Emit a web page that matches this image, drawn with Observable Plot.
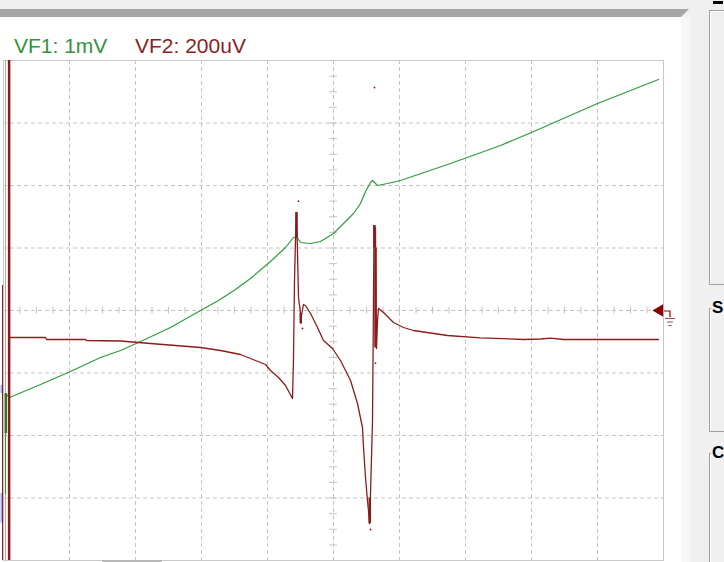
<!DOCTYPE html>
<html><head><meta charset="utf-8">
<script src="https://cdn.jsdelivr.net/npm/d3@7"></script>
<script src="https://cdn.jsdelivr.net/npm/@observablehq/plot@0.6"></script>
<style>
html,body{margin:0;padding:0;width:724px;height:562px;overflow:hidden;background:#f0f0f0;font-family:"Liberation Sans",Arial,sans-serif;}
#bar{position:absolute;left:0;top:9px;width:689px;height:8px;background:#a6a6a6;clip-path:polygon(0 0,100% 0,calc(100% - 8px) 100%,0 100%);}
#panel{position:absolute;left:0;top:17px;width:681px;height:545px;background:#fff;}
#edge{position:absolute;left:681px;top:17px;width:9px;height:545px;background:#f7f7f7;}
.hdr{position:absolute;top:34px;font-size:21px;line-height:24px;white-space:nowrap;z-index:3;}
.box{position:absolute;left:709px;width:40px;border:1px solid #a0a0a0;box-shadow:inset 1px 1px 0 #fff;}
.gt{position:absolute;font-weight:bold;font-size:17px;line-height:20px;color:#000;background:#f0f0f0;padding:0 1px;}
#scroll{position:absolute;left:102px;top:560px;width:60px;height:2px;background:#b8b8b8;z-index:3;}
#gnd{position:absolute;left:660px;top:305px;z-index:4;}
#chart svg{position:absolute;left:0;top:0;z-index:2;}
</style></head>
<body>
<div id="bar"></div>
<div id="panel"></div>
<div id="edge"></div>
<div class="box" style="top:10px;height:273px;"></div>
<div style="position:absolute;left:713px;top:1px;width:10px;height:3px;background:#000;"></div>
<div class="box" style="top:308px;height:122px;"></div>
<div class="gt" style="left:711px;top:298px;">S</div>
<div class="box" style="top:453px;height:130px;"></div>
<div class="gt" style="left:711px;top:443px;">C</div>
<div class="hdr" style="left:14px;color:#34913c;">VF1: 1mV</div>
<div class="hdr" style="left:135px;color:#8b1f1f;">VF2: 200uV</div>
<div id="chart"></div>
<div id="scroll"></div>
<svg id="gnd" width="20" height="26" viewBox="0 0 20 26">
  <path d="M4 6 H10 V12" fill="none" stroke="#8b0000" stroke-width="1.2"/>
  <path d="M5 13.5 H15 M7 17 H13 M8.5 20.5 H11.5" fill="none" stroke="#9a5050" stroke-width="1"/>
</svg>
<script>
// time in screen divisions (10 div full width), amplitude in screen divisions (VF1 1mV/div, VF2 200uV/div)
const vf1T = [0.03,0.03,0.091,0.561,1.015,1.470,1.773,2.045,2.530,2.985,3.258,3.515,3.742,4.045,4.273,4.394,4.439,4.500,4.652,4.803,5.000,5.152,5.303,5.409,5.485,5.561,5.591,5.667,5.818,6.015,6.773,7.530,8.000,9.000,9.924];
const vf1V = [-2.93,-1.33,-1.392,-1.184,-0.976,-0.752,-0.640,-0.512,-0.272,0,0.160,0.336,0.512,0.784,1.008,1.168,1.184,1.088,1.072,1.104,1.232,1.392,1.552,1.712,1.904,2.048,2.080,2.000,2.032,2.080,2.352,2.640,2.848,3.312,3.696];

const vf2T = [0.091,0.636,0.652,1.242,1.258,1.773,2.045,2.227,2.606,2.985,3.288,3.591,3.818,3.970,4.045,4.167,4.273,4.379,4.394,4.409,4.424,4.439,4.447,4.470,4.500,4.508,4.515,4.545,4.576,4.652,4.758,4.848,4.985,5.106,5.258,5.364,5.439,5.455,5.485,5.515,5.530,5.545,5.561,5.591,5.606,5.614,5.636,5.644,5.652,5.667,5.682,5.758,5.909,6.061,6.212,6.727,7.227,7.879,8.136,8.288,8.485,9.045,9.924];
const vf2V = [-0.432,-0.432,-0.464,-0.464,-0.480,-0.488,-0.512,-0.528,-0.560,-0.592,-0.640,-0.704,-0.800,-0.864,-0.960,-1.072,-1.200,-1.408,-0.768,0.480,1.120,1.568,1.280,0.208,-0.048,-0.208,-0.080,0.096,0.080,-0.048,-0.272,-0.480,-0.608,-0.800,-1.120,-1.488,-1.872,-2.192,-2.672,-3.040,-3.200,-3.408,-2.928,-1.760,0.160,1.360,1.312,0.160,-0.608,-0.160,0.032,-0.032,-0.192,-0.272,-0.320,-0.400,-0.437,-0.464,-0.456,-0.443,-0.464,-0.464,-0.464];

// dense (overdrawn) vertical portions of VF2
const vf2DenseT  = [0.085,4.439,4.504,5.620,5.636,5.550];
const vf2DenseV1 = [-4,1.15,-0.208,1.0,-0.6,-3.0];
const vf2DenseV2 = [4,1.568,-0.05,1.36,1.0,-3.41];
// dense portion of VF1 at start
const vf1DenseT = [0.035];
const vf1DenseV1 = [-1.97];
const vf1DenseV2 = [-1.33];

// isolated min/max sample pixels of VF2
const glitchT = [5.621,4.470,4.530,5.636,5.561];
const glitchV = [3.568,1.749,-0.288,-0.843,-3.504];

// other edge markers at the left side
const edgeT  = [0.030,-0.015];
const edgeV1 = [-4,-4];
const edgeV2 = [4,0.4];
const edgeColor = ["#cfa0a0","#9b1c1c"];
const chanMarkT = [-0.023,-0.023];
const chanMarkV1 = [-1.33,-2.93];
const chanMarkV2 = [-1.2,-3.4];

const triggerLevel = [0];

const gridX = [1,2,3,4,5,6,7,8,9];
const gridY = [-3,-2,-1,0,1,2,3];
const minorX = d3.range(0.25, 10, 0.25);
const minorY = d3.range(-3.75, 4, 0.25);

const green = "#2f9a3f", red = "#8b1c1c";
const vf1 = vf1T.map((t,i)=>({t, v:vf1V[i]}));
const vf2 = vf2T.map((t,i)=>({t, v:vf2V[i]}));
const vf2Dense = vf2DenseT.map((t,i)=>({t, a:vf2DenseV1[i], b:vf2DenseV2[i]}));
const vf1Dense = vf1DenseT.map((t,i)=>({t, a:vf1DenseV1[i], b:vf1DenseV2[i]}));
const glitches = glitchT.map((t,i)=>({t, v:glitchV[i]}));
const edges = edgeT.map((t,i)=>({t, a:edgeV1[i], b:edgeV2[i], c:edgeColor[i]}));
const chanMarks = chanMarkT.map((t,i)=>({t, a:chanMarkV1[i], b:chanMarkV2[i]}));

const grid = {stroke:"#c4c4c4", strokeOpacity:1, strokeDasharray:"4,3", strokeWidth:1};
const svg = Plot.plot({
  width:724, height:562,
  marginLeft:3, marginRight:61, marginTop:60, marginBottom:2,
  x:{domain:[0,10], axis:null},
  y:{domain:[-4,4], axis:null},
  style:{background:"transparent", overflow:"visible"},
  marks:[
    Plot.ruleX(gridX, grid),
    Plot.ruleY(gridY, grid),
    Plot.ruleX(minorX, {x:d=>d, y1:-0.056, y2:0.056, stroke:"#c4c4c4", strokeWidth:1}),
    Plot.ruleY(minorY, {y:d=>d, x1:4.94, x2:5.06, stroke:"#c4c4c4", strokeWidth:1}),
    Plot.frame({stroke:"#c8c8c8"}),
    Plot.ruleX(chanMarks, {x:"t", y1:"a", y2:"b", stroke:"#a8b0e8", strokeWidth:3}),
    Plot.ruleX(edges, {x:"t", y1:"a", y2:"b", stroke:"c", strokeWidth:1}),
    Plot.line(vf1, {x:"t", y:"v", stroke:green, strokeWidth:1.2}),
    Plot.ruleX(vf1Dense, {x:"t", y1:"a", y2:"b", stroke:"#2a7a2a", strokeWidth:2.5}),
    Plot.line(vf2, {x:"t", y:"v", stroke:red, strokeWidth:1.3}),
    Plot.ruleX(vf2Dense, {x:"t", y1:"a", y2:"b", stroke:red, strokeWidth:2.5}),
    Plot.dot(glitches, {x:"t", y:"v", r:0.9, fill:red}),
    Plot.dot(triggerLevel, {x:()=>9.94, y:d=>d, symbol:"triangle", rotate:-90, r:4.6, fill:"#8b0000"})
  ]
});
document.getElementById("chart").appendChild(svg);
</script>
</body></html>
